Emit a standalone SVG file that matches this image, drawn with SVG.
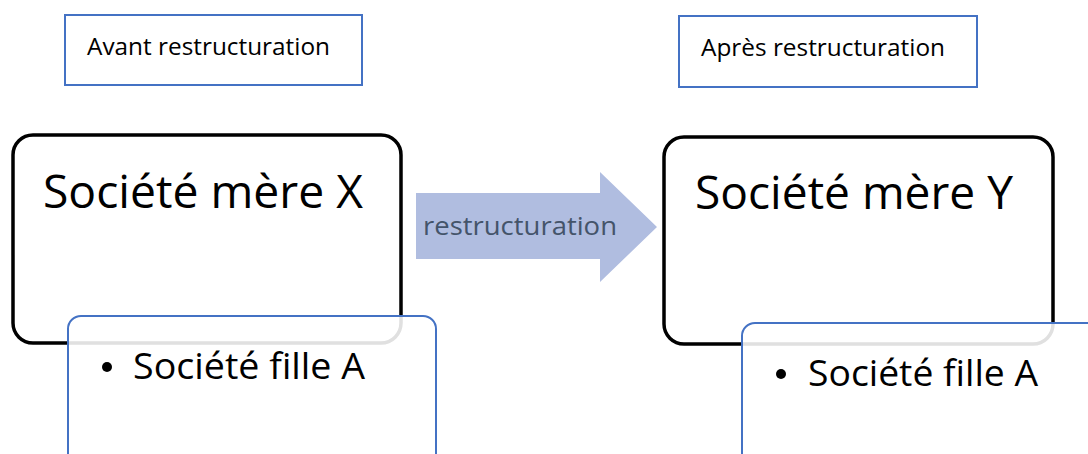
<svg xmlns="http://www.w3.org/2000/svg" width="1088" height="454" viewBox="0 0 1088 454">
<style>
.lbl{fill:#fff;stroke:#4472C4;stroke-width:2}
.parent{fill:#fff;stroke:#000;stroke-width:3.5}
.child{fill:#fff;fill-opacity:0.88;stroke:#4472C4;stroke-width:2}
text{font-family:"Open Sans","Noto Sans","DejaVu Sans",sans-serif;fill:#000}
.t1{font-size:23px}
.t2{font-size:46px}
.t3{font-size:36px}
.t4{font-size:26px;fill:#44546A}
</style>
<rect width="1088" height="454" fill="#fff"/>
<g id="label-avant">
<rect class="lbl" x="65" y="15" width="297" height="70"/>
<text class="t1" x="87" y="55" textLength="243" lengthAdjust="spacingAndGlyphs">Avant restructuration</text>
</g>
<g id="label-apres">
<rect class="lbl" x="679" y="16" width="298" height="71"/>
<text class="t1" x="701" y="56" textLength="244" lengthAdjust="spacingAndGlyphs">Après restructuration</text>
</g>
<g id="connectors">
<g id="arrow">
<polygon points="416,193 600,193 600,172 657,227 600,282 600,259 416,259" fill="#B0BDE0"/>
<text class="t4" x="423" y="235" textLength="194" lengthAdjust="spacingAndGlyphs">restructuration</text>
</g>
</g>
<g id="mere-x">
<rect class="parent" x="13" y="135" width="388" height="208" rx="20"/>
<text class="t2" x="43" y="208" textLength="320" lengthAdjust="spacingAndGlyphs">Société mère X</text>
</g>
<g id="fille-a-x">
<rect class="child" x="68" y="316" width="368" height="160" rx="13"/>
<circle cx="107" cy="367" r="5" fill="#000"/>
<text class="t3" x="133" y="379" textLength="232" lengthAdjust="spacingAndGlyphs">Société fille A</text>
</g>
<g id="mere-y">
<rect class="parent" x="664" y="137" width="389" height="207" rx="20"/>
<text class="t2" x="695" y="209" textLength="318" lengthAdjust="spacingAndGlyphs">Société mère Y</text>
</g>
<g id="fille-a-y">
<rect class="child" x="742" y="323" width="380" height="160" rx="13"/>
<circle cx="781" cy="374" r="5" fill="#000"/>
<text class="t3" x="808" y="386" textLength="230" lengthAdjust="spacingAndGlyphs">Société fille A</text>
</g>
</svg>
